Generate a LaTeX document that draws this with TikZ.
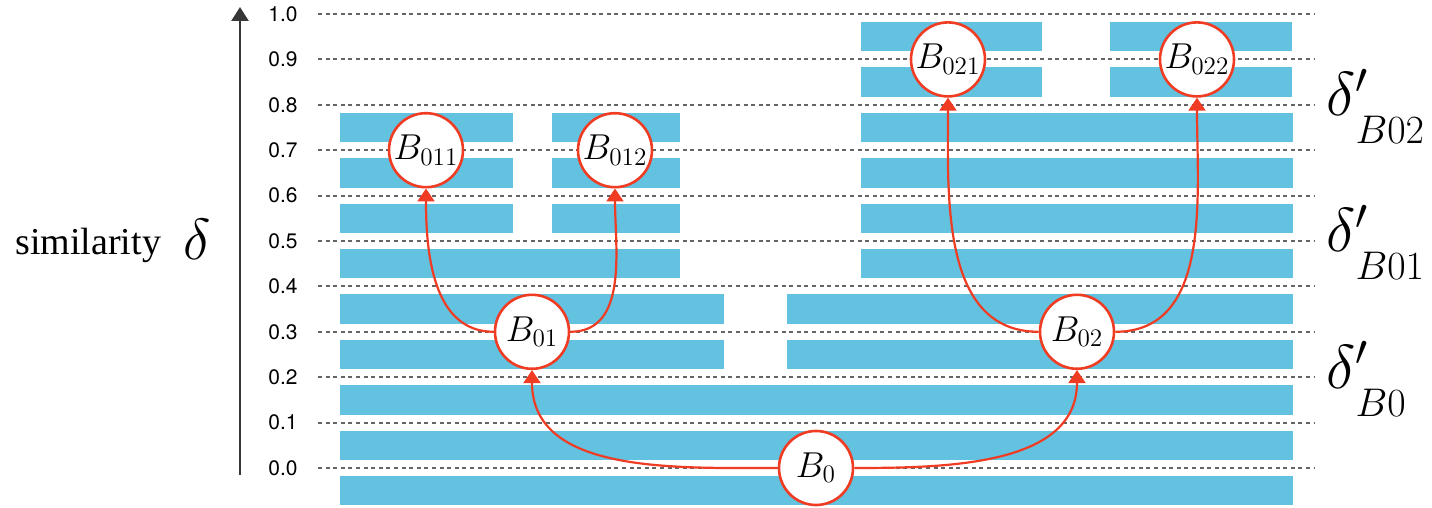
\RequirePackage{fix-cm}
\documentclass[tikz,border=0pt]{standalone}
\usepackage{fontspec}
\setsansfont{TeX Gyre Heros}
\newfontfamily\simfont{Liberation Serif}
\usetikzlibrary{arrows.meta}
\definecolor{barblue}{RGB}{98,194,224}
\definecolor{nred}{RGB}{240,60,35}
\definecolor{gridgray}{RGB}{100,100,100}
\definecolor{axisgray}{RGB}{55,55,55}
\tikzset{
  gridline/.style={draw=gridgray, line width=1pt, dash pattern=on 2pt off 1.8pt},
  bar/.style={fill=barblue},
  bnode/.style={circle, draw=nred, fill=white, line width=1.3pt, minimum size=37pt, inner sep=0pt, font=\fontsize{18}{18}\selectfont},
  arr/.style={draw=nred, line width=1.1pt, -{Triangle[length=6.5pt,width=8.5pt]}},
  ticklabel/.style={anchor=east, inner sep=0pt, font=\fontsize{10.5}{12}\selectfont\sffamily},
  axisline/.style={draw=axisgray, line width=1.3pt, -{Triangle[length=7pt,width=8.5pt]}},
  dlabel/.style={anchor=base west, inner sep=0pt},
}
\newcommand{\dprime}[1]{{\fontsize{31}{31}\selectfont$\delta$\rlap{$^{\prime}$}}\raisebox{-14pt}{\fontsize{20}{20}\selectfont$#1$}}
\begin{document}
\begin{tikzpicture}[x=0.5pt,y=0.5pt]
\useasboundingbox (0,0) rectangle (1432,508);
% grid lines and tick labels
\foreach \v/\t in {0/0.0,1/0.1,2/0.2,3/0.3,4/0.4,5/0.5,6/0.6,7/0.7,8/0.8,9/0.9,10/1.0}{
  \pgfmathsetmacro{\yy}{40+45.4*\v}
  \draw[gridline] (318,\yy) -- (1315,\yy);
  \node[ticklabel] (tick\v) at (298,\yy) {\t};
}
% bars
\foreach \k/\a/\b in {-1/340/1293, 0/340/1293, 1/340/1293,
  2/340/724, 2/787/1293, 3/340/724, 3/787/1293,
  4/340/680, 4/861/1293,
  5/340/513, 5/552/680, 5/861/1293,
  6/340/513, 6/552/680, 6/861/1293,
  7/340/513, 7/552/680, 7/861/1293,
  8/861/1042, 8/1110/1292, 9/861/1042, 9/1110/1292}{
  \pgfmathsetmacro{\ya}{48+45.4*\k}
  \pgfmathsetmacro{\yb}{77.4+45.4*\k}
  \fill[bar] (\a,\ya) rectangle (\b,\yb);
}
% axis
\coordinate (axb) at (240,33);
\coordinate (axt) at (240,501);
\draw[axisline] (axb) -- (axt);
\node[anchor=base west, inner sep=0pt, font=\fontsize{19}{19}\selectfont\simfont] (sim) at (15,253) {similarity};
\node[anchor=base west, inner sep=0pt, font=\fontsize{29}{29}\selectfont] (simd) at (183,248) {$\delta$};
% nodes
\node[bnode] (B0) at (816,40) {$B_{0}$};
\node[bnode] (B01) at (532,176.2) {$B_{01}$};
\node[bnode] (B02) at (1077,176.2) {$B_{02}$};
\node[bnode] (B011) at (426,357.8) {$B_{011}$};
\node[bnode] (B012) at (615,357.8) {$B_{012}$};
\node[bnode] (B021) at (948,448.6) {$B_{021}$};
\node[bnode] (B022) at (1197,448.6) {$B_{022}$};
% arrows
\draw[arr] (B0.west) to[out=180,in=-90] (B01.south);
\draw[arr] (B0.east) to[out=0,in=-90] (B02.south);
\draw[arr] (B01.west) to[out=180,in=-90] (B011.south);
\draw[arr] (B01.east) to[out=0,in=-90] (B012.south);
\draw[arr] (B02.west) to[out=180,in=-90] (B021.south);
\draw[arr] (B02.east) to[out=0,in=-90] (B022.south);
% delta' labels
\node[dlabel] (d0) at (1326,119.8) {\dprime{B0}};
\node[dlabel] (d01) at (1326,256) {\dprime{B01}};
\node[dlabel] (d02) at (1326,392.2) {\dprime{B02}};
\end{tikzpicture}
\end{document}
